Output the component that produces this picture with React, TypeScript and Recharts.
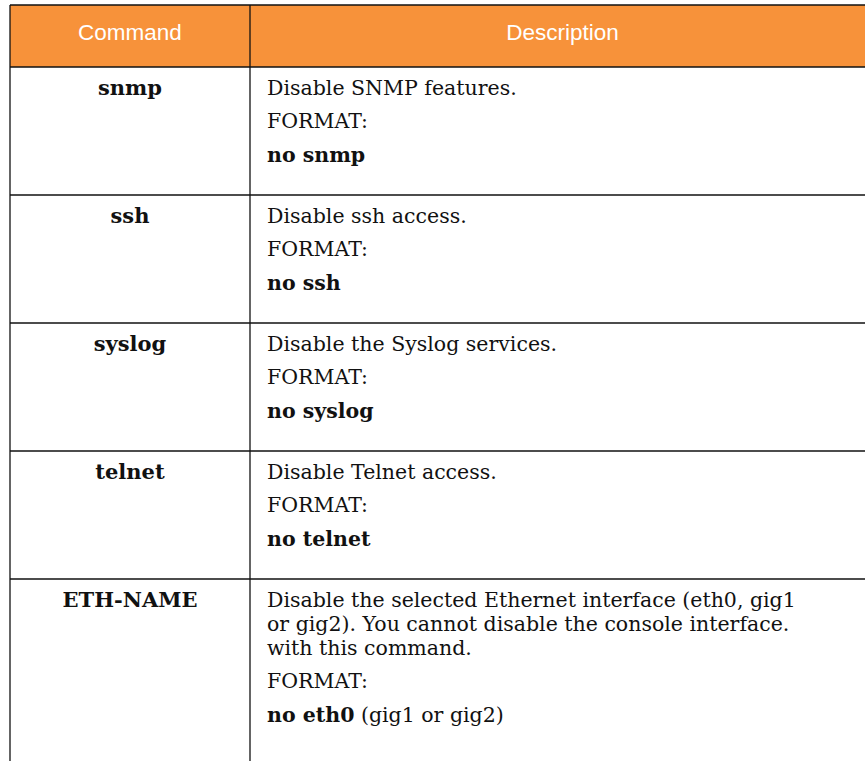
import React from "react";
import { BarChart, Bar, XAxis, YAxis } from "recharts";

const headers = ["Command", "Description"];
const commands = ["snmp", "ssh", "syslog", "telnet", "ETH-NAME"];
const descriptions = [
  ["Disable SNMP features."],
  ["Disable ssh access."],
  ["Disable the Syslog services."],
  ["Disable Telnet access."],
  [
    "Disable the selected Ethernet interface (eth0, gig1",
    "or gig2). You cannot disable the console interface.",
    "with this command.",
  ],
];
const formatLabel = "FORMAT:";
const formatCommands = ["no snmp", "no ssh", "no syslog", "no telnet", "no eth0"];
const formatNotes = ["", "", "", "", "(gig1 or gig2)"];

// layout
const W = 865;
const H = 761;
const TOP = 5;
const LEFT = 10;
const CMD_COL = 240;
const HEADER_H = 62;
const ROW_BASE = 128;
const WRAP_LINE = 24;
const PARA_GAP = 33;
const FIRST_BASE = 28;
const ORANGE = "#F7923A";
const SERIF = "'DejaVu Serif', serif";
const SANS = "'Liberation Sans', Arial, sans-serif";
const FS = 20.5;

const rowHeights = [
  HEADER_H,
  ...descriptions.map((d) => ROW_BASE + (d.length - 1) * WRAP_LINE),
];
const total = rowHeights.reduce((a, b) => a + b, 0);

const tableRow: any = { name: "table" };
rowHeights.forEach((h, i) => {
  tableRow[`r${i}`] = h;
});
const data = [tableRow];

const makeShape = (row: number) => (props: any) => {
  const { x, y, width, height } = props;
  const top = Math.min(y, y + height);
  const h = Math.abs(height);
  const div = x + CMD_COL;
  const last = row === rowHeights.length - 1;
  const bottom = last ? top + h + 40 : top + h;
  const lineProps = { stroke: "#111", strokeWidth: 1.3 };

  if (row === 0) {
    return (
      <g>
        <rect x={x} y={top} width={width} height={h} fill={ORANGE} />
        <line x1={x} x2={x + width} y1={top} y2={top} {...lineProps} />
        <line x1={x} x2={x} y1={top} y2={bottom} {...lineProps} />
        <line x1={div} x2={div} y1={top} y2={bottom} {...lineProps} />
        <line x1={x + width} x2={x + width} y1={top} y2={bottom} {...lineProps} />
        <text x={x + CMD_COL / 2} y={top + 35} textAnchor="middle" fontFamily={SANS} fontSize={22.5} fill="#fff">
          {headers[0]}
        </text>
        <text x={(div + x + width) / 2} y={top + 35} textAnchor="middle" fontFamily={SANS} fontSize={22.5} fill="#fff">
          {headers[1]}
        </text>
      </g>
    );
  }

  const i = row - 1;
  const lines = descriptions[i];
  const tx = div + 17;
  const base = top + FIRST_BASE;
  const fmtY = base + (lines.length - 1) * WRAP_LINE + PARA_GAP;
  return (
    <g>
      <rect x={x} y={top} width={width} height={h} fill="#fff" />
      <line x1={x} x2={x + width} y1={top} y2={top} {...lineProps} />
      <line x1={x} x2={x} y1={top} y2={bottom} {...lineProps} />
      <line x1={div} x2={div} y1={top} y2={bottom} {...lineProps} />
      <line x1={x + width} x2={x + width} y1={top} y2={bottom} {...lineProps} />
      <text x={x + CMD_COL / 2} y={base} textAnchor="middle" fontFamily={SERIF} fontSize={FS + 0.5} fontWeight="bold" fill="#111">
        {commands[i]}
      </text>
      {lines.map((t, k) => (
        <text key={k} x={tx} y={base + k * WRAP_LINE} fontFamily={SERIF} fontSize={FS} fill="#111">
          {t}
        </text>
      ))}
      <text x={tx} y={fmtY} fontFamily={SERIF} fontSize={FS} fill="#111">
        {formatLabel}
      </text>
      <text x={tx} y={fmtY + PARA_GAP + 1} fontFamily={SERIF} fontSize={FS} fill="#111">
        <tspan fontWeight="bold">{formatCommands[i]}</tspan>
        {formatNotes[i] ? <tspan>{" " + formatNotes[i]}</tspan> : null}
      </text>
    </g>
  );
};

export default function App() {
  const bottomMargin = Math.max(0, H - TOP - total);
  return (
    <div
      style={{
        position: "absolute",
        left: 0,
        top: 0,
        width: W,
        height: H,
        overflow: "hidden",
        background: "#fff",
      }}
    >
      <BarChart
        width={W}
        height={H}
        data={data}
        margin={{ top: TOP, right: -10, bottom: bottomMargin, left: LEFT }}
        barCategoryGap={0}
        barGap={0}
      >
        <XAxis dataKey="name" type="category" hide />
        <YAxis type="number" domain={[0, total]} reversed hide />
        {rowHeights.map((_, r) => (
          <Bar
            key={r}
            dataKey={`r${r}`}
            stackId="t"
            isAnimationActive={false}
            shape={makeShape(r)}
          />
        ))}
      </BarChart>
    </div>
  );
}
